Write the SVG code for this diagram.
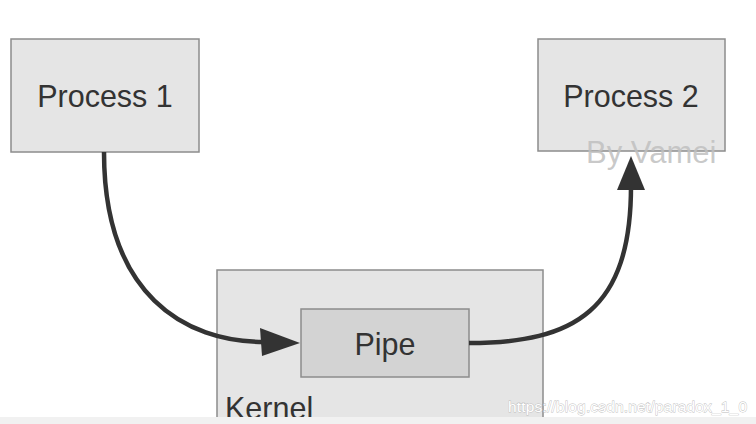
<svg xmlns="http://www.w3.org/2000/svg" width="756" height="424" viewBox="0 0 756 424">
<style>
.box{fill:#e5e5e5;stroke:#8c8c8c;stroke-width:1.5}
.pipe{fill:#d3d3d3;stroke:#8c8c8c;stroke-width:1.5}
.lbl{font-family:"Liberation Sans",Arial,sans-serif;font-size:30.5px;fill:#333}
.conn{fill:none;stroke:#333;stroke-width:4.5}
.head{fill:#333}
</style>
<rect x="0" y="0" width="756" height="424" fill="#ffffff"/>
<g id="kernel">
<rect class="box" x="217" y="270" width="326" height="160"/>
<text class="lbl" x="225" y="419">Kernel</text>
</g>
<g id="process1">
<rect class="box" x="11" y="39" width="188" height="113"/>
<text class="lbl" x="105" y="107" text-anchor="middle">Process 1</text>
</g>
<g id="process2">
<rect class="box" x="538" y="39" width="187" height="112"/>
<text class="lbl" x="631" y="107" text-anchor="middle">Process 2</text>
</g>
<g id="pipe">
<rect class="pipe" x="301" y="309" width="168" height="68"/>
<text class="lbl" x="385" y="355" text-anchor="middle">Pipe</text>
</g>
<g id="connectors">
<path class="conn" d="M104,152 C104,295 185,342 264,342"/>
<polygon class="head" points="300,343 260,328 262,356"/>
<path class="conn" d="M469,343 C575,343 631,310 631,186"/>
<polygon class="head" points="631,156 617,190 645,190"/>
</g>
<text x="586" y="163" font-family="'Liberation Sans',Arial,sans-serif" font-size="31" fill="#c0c0c0" fill-opacity="0.85">By Vamei</text>
<rect x="0" y="417" width="756" height="7" fill="#f1f1f1"/>
<text x="508" y="412" font-family="'Liberation Sans',Arial,sans-serif" font-size="15.5" fill="#ffffff" stroke="#bdbdbd" stroke-width="0.8" paint-order="stroke" textLength="239">https://blog.csdn.net/paradox_1_0</text>
</svg>
